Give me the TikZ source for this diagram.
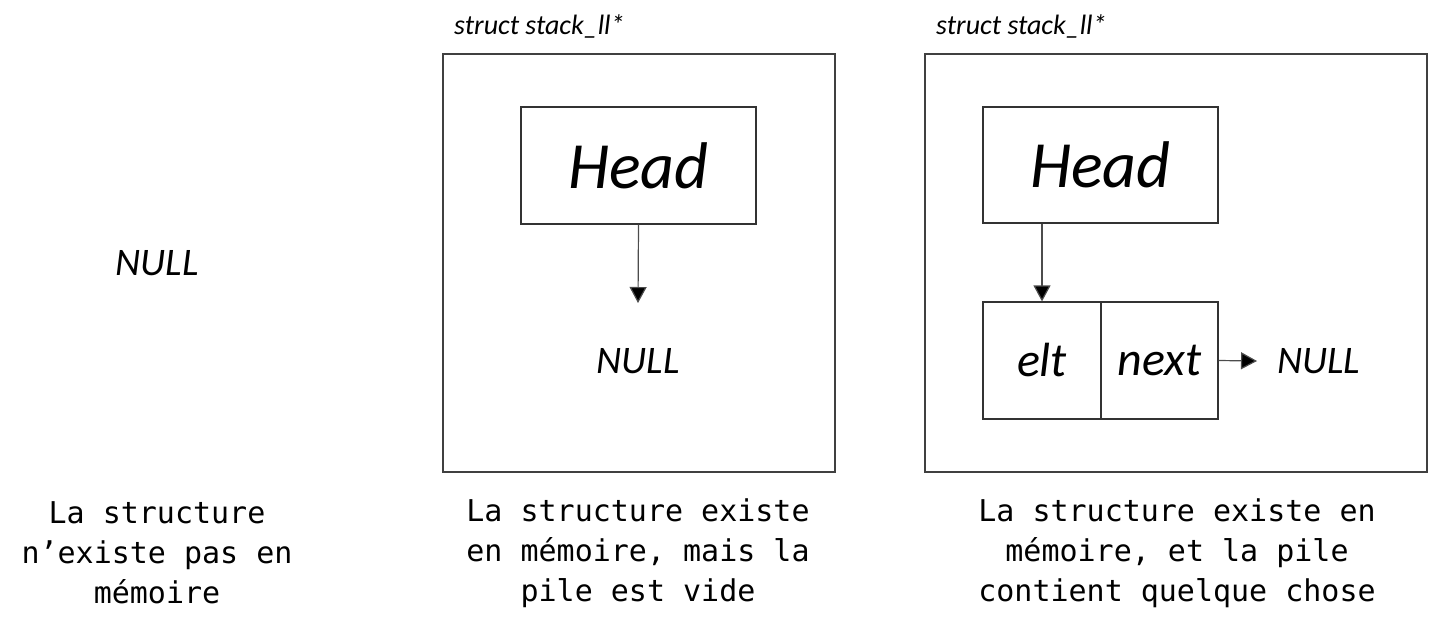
\documentclass[tikz,border=0pt]{standalone}
\usepackage{fontspec}
\setmainfont{Carlito}
\newfontfamily\monofont{DejaVu Sans Mono}
\usetikzlibrary{arrows.meta}
\tikzset{
  frame/.style={draw=black!75, line width=1.2pt},
  box/.style={draw=black!80, line width=1.2pt},
  link/.style={draw=black!70, line width=1.2pt, -{Triangle[width=17pt,length=16pt,fill=black]}},
  lbl/.style={font=\fontsize{39}{39}\selectfont\itshape, inner sep=0pt},
  cell/.style={font=\fontsize{48}{48}\selectfont\itshape, inner sep=0pt},
  hd/.style={font=\fontsize{66}{66}\selectfont\itshape, inner sep=0pt},
  ttl/.style={font=\fontsize{28}{28}\selectfont\itshape, inner sep=0pt, anchor=west},
  captxt/.style={font=\fontsize{30}{40}\monofont, align=center, inner sep=0pt}
}
\begin{document}
\begin{tikzpicture}[x=1pt,y=-1pt]
\useasboundingbox (0,0) rectangle (1431,627);
% column 1
\node[lbl] (n1) at (157,263) {NULL};
\node[captxt] (c1) at (157,553) {La structure\\n’existe pas en\\mémoire};
% column 2
\node[ttl] (t2) at (454,26) {struct stack\_ll*};
\draw[frame] (443,54) rectangle (835,472);
\node[box, hd, minimum width=235pt, minimum height=117pt] (h2) at (638.5,165.5) {Head};
\node[lbl] (n2) at (638,361) {NULL};
\coordinate (p2) at (638,303);
\draw[link] (h2.south) -- (p2);
\node[captxt] (c2) at (638,553) {La structure existe\\en mémoire, mais la\\pile est vide};
% column 3
\node[ttl] (t3) at (936,26) {struct stack\_ll*};
\draw[frame] (925,54) rectangle (1427,472);
\node[box, hd, minimum width=235pt, minimum height=116pt] (h3) at (1100.5,165) {Head};
\node[box, cell, minimum width=118pt, minimum height=117pt] (elt) at (1042,360.5) {elt};
\node[box, cell, minimum width=117pt, minimum height=117pt] (nx) at (1159.5,360.5) {next};
\node[lbl, anchor=west] (n3) at (1277,361) {NULL};
\draw[link] (h3.south -| elt.north) -- (elt.north);
\draw[link] (nx.east) -- ([xshift=-20pt]n3.west);
\node[captxt] (c3) at (1177,553) {La structure existe en\\mémoire, et la pile\\contient quelque chose};
\end{tikzpicture}
\end{document}
